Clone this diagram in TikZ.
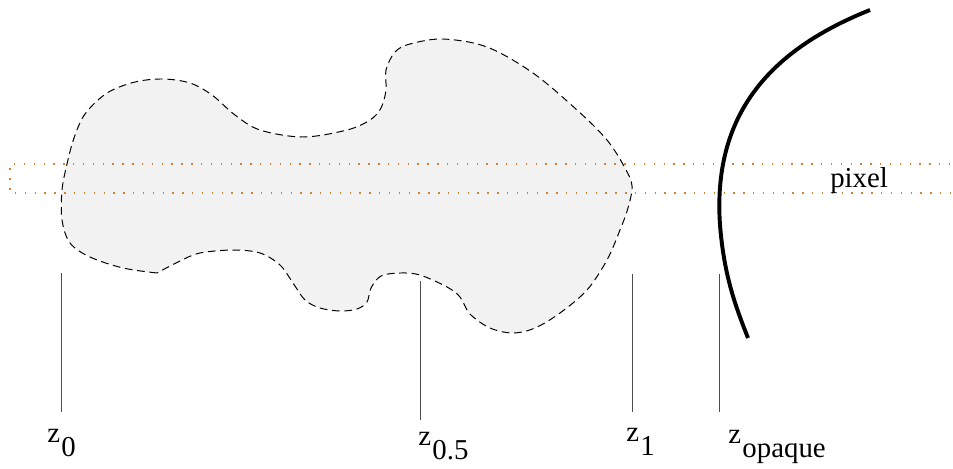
\documentclass[tikz,border=0pt]{standalone}
\usepackage{fontspec}
\setmainfont{Liberation Serif}
\usepackage{tikz}
\definecolor{pixorange}{RGB}{214,128,48}
\tikzset{
  fig/.style={x=0.25mm, y=-0.25mm, every node/.style={inner sep=0pt, anchor=base west, font=\fontsize{20.5}{24}\selectfont}},
  blob/.style={draw, fill=black!5, line width=0.7pt, dash pattern=on 5.5pt off 3.3pt},
  pixbox/.style={draw=pixorange, line width=0.75pt, dash pattern=on 1pt off 6pt},
  tick/.style={draw=black!70, line width=0.7pt},
  surf/.style={draw, line width=2.8pt}
}
\newcommand{\zlab}[1]{z\kern1pt\raisebox{-0.5em}{#1}}

\begin{document}
\begin{tikzpicture}[fig]
\useasboundingbox (0,0) rectangle (953,468);
% the medium
\path[blob] plot[smooth, tension=0.55] coordinates {
  (157,273) (123,268) (90,257) (70,243) (62,220) (62,190) (67,164) (74,138)
  (85,114) (107,93) (135,82) (163,79) (190,83) (212,95) (235,115) (260,130)
  (303,137) (347,130) (370,120) (381,108) (386,90) (386,70) (395,52) (410,44)
  (443,39) (487,47) (533,73) (577,110) (607,140) (625,168) (632,186) (628,208)
  (620,230) (607,260) (587,290) (560,313) (535,328) (513,333) (490,328) (470,314)
  (460,297) (447,287) (420,275) (400,273) (381,276) (371,288) (367,302) (357,309)
  (340,311) (320,308) (305,300) (293,283) (280,265) (260,253) (233,250) (200,253)
  (180,261) (157,273)} -- cycle;
% the pixel footprint
\draw[pixbox] (970,164) -- (10,164) -- (10,193) -- (970,193);
\node (pix) at (830,187) {pixel};
% opaque surface
\draw[surf] (870,10) .. controls (775,48) and (712,110) .. (720,225) .. controls (724,275) and (735,305) .. (748,338);
% depth ticks and labels
\coordinate (t0a) at (61,273);  \coordinate (t0b) at (61,412);
\coordinate (t5a) at (420,281); \coordinate (t5b) at (420,420);
\coordinate (t1a) at (632,274); \coordinate (t1b) at (632,412);
\coordinate (toa) at (719,274); \coordinate (tob) at (719,412);
\draw[tick] (t0a) -- (t0b); \draw[tick] (t5a) -- (t5b);
\draw[tick] (t1a) -- (t1b); \draw[tick] (toa) -- (tob);
\node (z0) at (47,442) {\zlab{0}};
\node (z5) at (418,445) {\zlab{0.5}};
\node (z1) at (626,441) {\zlab{1}};
\node (zo) at (728,443) {\zlab{opaque}};
\end{tikzpicture}
\end{document}
